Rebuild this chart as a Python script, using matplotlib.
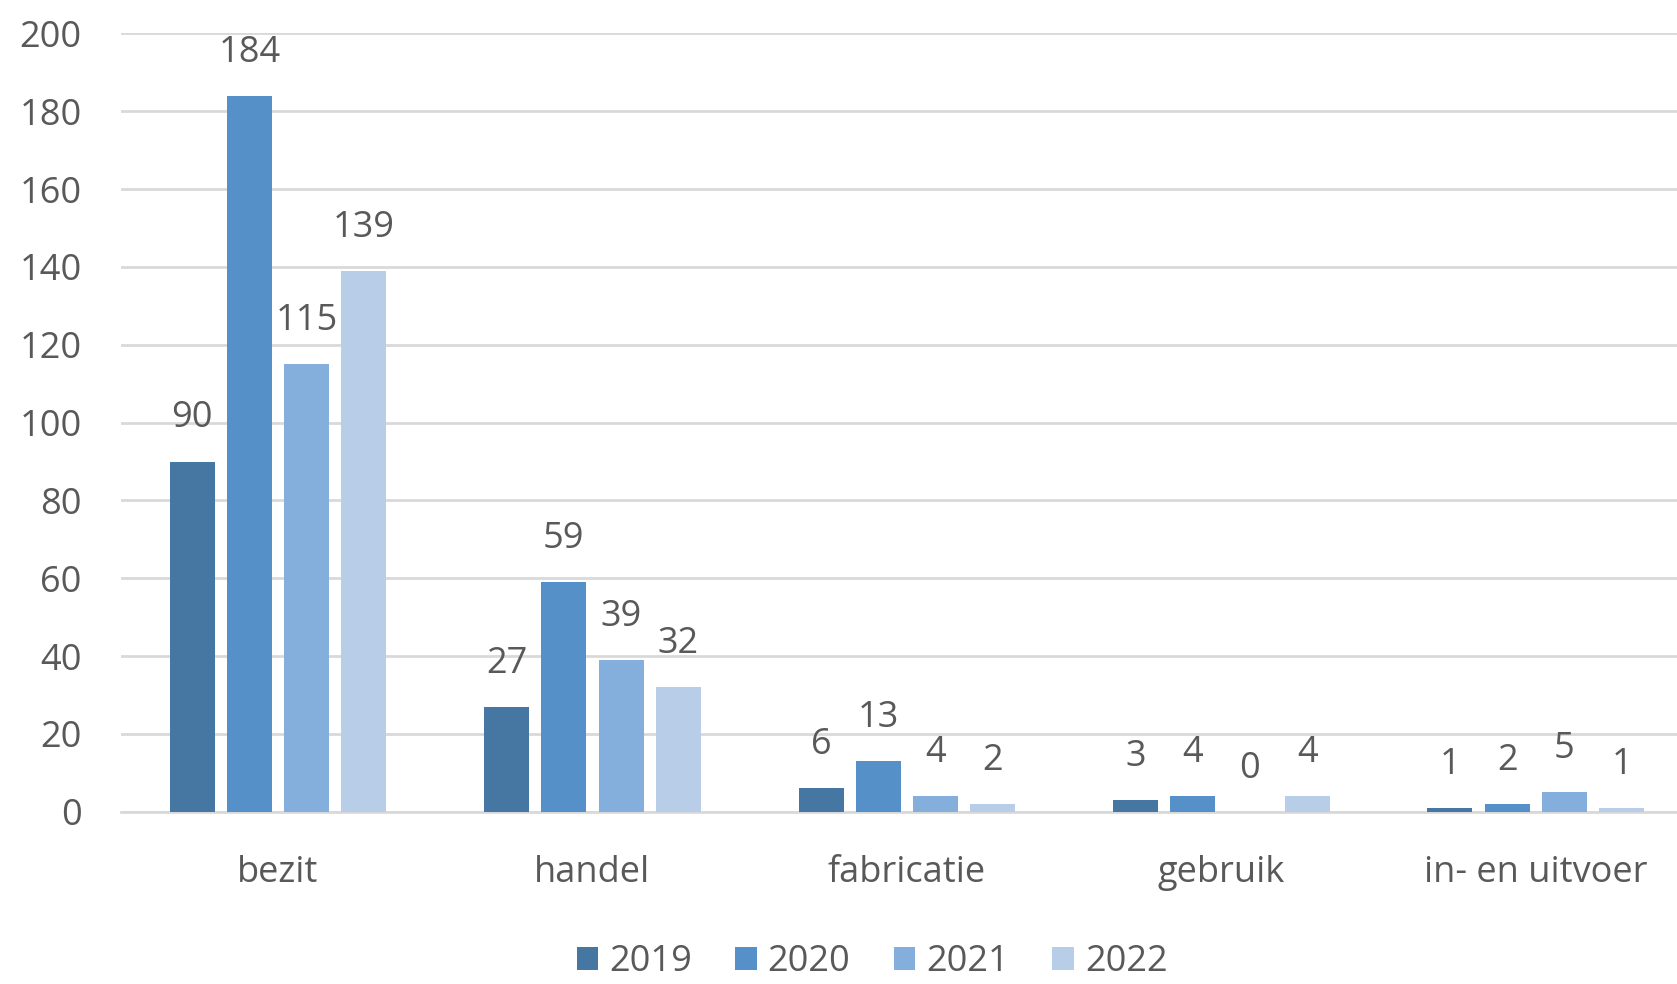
import numpy as np
from matplotlib import pyplot as plt

categories = ["bezit", "handel", "fabricatie", "gebruik", "in- en uitvoer"]
years = ["2019", "2020", "2021", "2022"]
v2019 = [90, 27, 6, 3, 1]
v2020 = [184, 59, 13, 4, 2]
v2021 = [115, 39, 4, 0, 5]
v2022 = [139, 32, 2, 4, 1]
series = [v2019, v2020, v2021, v2022]
colors = ["#4677A3", "#5590C8", "#84AEDC", "#B7CDE8"]

plt.rcParams['font.family'] = ['Open Sans', 'DejaVu Sans']
txt = "#595959"
fs = 26

fig = plt.figure(figsize=(16.77, 9.84), dpi=100)
ax = fig.add_axes([0.072, 0.175, 0.928, 0.791])

x = np.arange(len(categories))
step = 0.182
width = 0.143
for i, vals in enumerate(series):
    pos = x + (i - 1.5) * step
    ax.bar(pos, vals, width, color=colors[i], label=years[i], zorder=3)
    for xp, v in zip(pos, vals):
        ax.annotate(str(v), (xp, v), xytext=(0, 31), textcoords="offset points",
                    ha="center", va="center", fontsize=fs, color=txt)

ax.set_ylim(0, 200)
ax.set_xlim(-0.5, 4.449)
ax.set_yticks(range(0, 201, 20))
ax.set_xticks(x)
ax.set_xticklabels(categories)
ax.tick_params(axis="both", length=0, labelsize=fs, labelcolor=txt)
ax.tick_params(axis="x", pad=31)
ax.tick_params(axis="y", pad=28)
ax.grid(axis="y", color="#D9D9D9", linewidth=2, zorder=0)
for s in ["top", "right", "left"]:
    ax.spines[s].set_visible(False)
ax.spines["bottom"].set_color("#D9D9D9")
ax.spines["bottom"].set_linewidth(2)

fig.legend(loc="center", bbox_to_anchor=(0.52, 0.022), ncol=4, frameon=False,
           fontsize=fs, labelcolor=txt, handlelength=0.6, handleheight=0.6,
           handletextpad=0.3, columnspacing=1.2, borderpad=0.1)

fig.savefig("out.png", dpi=100)
